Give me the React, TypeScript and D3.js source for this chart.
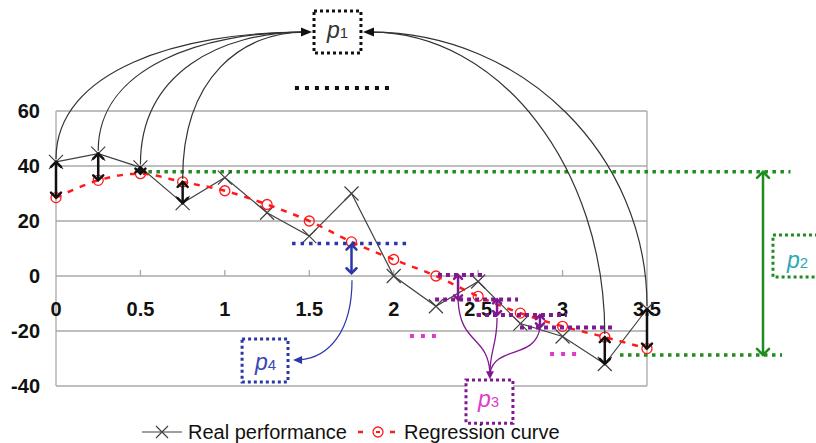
import React from "react";
import * as d3 from "d3";

// x positions of the samples (quarter steps)
const steps = [0, 0.25, 0.5, 0.75, 1, 1.25, 1.5, 1.75, 2, 2.25, 2.5, 2.75, 3, 3.25, 3.5];
const realPerformance = [41.5, 44.5, 39.5, 26.5, 35.8, 23, 14.5, 30, 0, -11, -2, -17.3, -22, -32, -12];
const regressionCurve = [28.5, 34.8, 37.2, 34.2, 31, 26, 20, 12.4, 6, 0, -7.4, -13.5, -18.3, -22.2, -26.4];
const xTicks = [0, 0.5, 1, 1.5, 2, 2.5, 3, 3.5];
const yTicks = [60, 40, 20, 0, -20, -40];

// indices of points that get a gap arrow + arc to p1
const leftArcIdx = [0, 1, 2, 3];
const rightArcIdx = [13, 14];

// annotation levels (data units)
const greenLevels = [37.9, -28.7];
const blueLevel = 11.8;
const purpleSegs = [
  { y: 0.4, x0: 2.262, x1: 2.523 },
  { y: -8.5, x0: 2.245, x1: 2.736 },
  { y: -14.2, x0: 2.493, x1: 3.026 },
  { y: -18.7, x0: 2.748, x1: 3.293 },
];
const purpleArrows = [
  { x: 2.381, y0: 0.4, y1: -8.5 },
  { x: 2.612, y0: -8.5, y1: -14.2 },
  { x: 2.866, y0: -14.2, y1: -18.7 },
];
const magentaSegs = [
  { y: -21.8, x0: 2.096, x1: 2.256 },
  { y: -28.4, x0: 2.926, x1: 3.085 },
];

const W = 816;
const H = 443;
const FONT = "Arial, 'Liberation Sans', sans-serif";
const GRID = "#a8a8a8";
const GREEN = "#1e8c1e";
const BLUE = "#2b37a8";
const PURPLE = "#80198f";
const MAGENTA = "#dc3cc8";

const x = d3.scaleLinear().domain([0, 3.5]).range([56, 647]);
const y = d3.scaleLinear().domain([-40, 60]).range([386, 111]);

function DoubleArrow({ px, y0, y1, color, w = 2.5, hw = 5, hh = 5 }: any) {
  const top = Math.min(y0, y1);
  const bot = Math.max(y0, y1);
  return (
    <g stroke={color} strokeWidth={w} fill="none" strokeLinecap="round">
      <line x1={px} y1={top + 1} x2={px} y2={bot - 1} />
      <polyline points={`${px - hw},${top + hh} ${px},${top} ${px + hw},${top + hh}`} />
      <polyline points={`${px - hw},${bot - hh} ${px},${bot} ${px + hw},${bot - hh}`} />
    </g>
  );
}

function Dotted({ x0, x1, py, color, w = 3.5, gap = 5 }: any) {
  return (
    <line x1={x0} x2={x1} y1={py} y2={py} stroke={color} strokeWidth={w}
      strokeDasharray={`${w} ${gap}`} />
  );
}

function DotBox({ x0, x1, y0, y1, color }: any) {
  return (
    <rect x={x0} y={y0} width={x1 - x0} height={y1 - y0} fill="white"
      stroke={color} strokeWidth={3} strokeDasharray="3 3" />
  );
}

function Label({ px, py, sub, color }: any) {
  return (
    <text x={px} y={py} fill={color} fontFamily={FONT}>
      <tspan fontStyle="italic" fontSize={23}>p</tspan>
      <tspan fontSize={15}>{sub}</tspan>
    </text>
  );
}

function arc(x0: number, y0: number, x1: number, y1: number, k1: number, k2: number) {
  return `M${x0},${y0} C${x0},${y0 + (y1 - y0) * k1} ${x1 + (x0 - x1) * k2},${y1} ${x1},${y1}`;
}

function Cross({ cx, cy, s = 7, color = "#404040", w = 1.2 }: any) {
  return (
    <path d={`M${cx - s},${cy - s}L${cx + s},${cy + s}M${cx - s},${cy + s}L${cx + s},${cy - s}`}
      stroke={color} strokeWidth={w} />
  );
}

export default function App() {
  const realLine = d3.line<number>().x((_, i) => x(steps[i])).y((d) => y(d));
  const regLine = d3
    .line<number>()
    .x((_, i) => x(steps[i]))
    .y((d) => y(d))
    .curve(d3.curveCatmullRom);

  const upper = (i: number) => y(Math.max(realPerformance[i], regressionCurve[i]));
  const lower = (i: number) => y(Math.min(realPerformance[i], regressionCurve[i]));

  const p1Left = { px: x(1.516), py: y(88.7) };
  const p1Right = { px: x(1.818), py: y(88.7) };
  const p3Tip = { px: x(2.57), py: y(-37.5) };

  return (
    <svg width={W} height={H} style={{ position: "absolute", left: 0, top: 0 }}>
      <rect width={W} height={H} fill="white" />

      {/* plot frame and grid */}
      {yTicks.map((t) => (
        <line key={t} x1={x(0)} x2={x(3.5)} y1={y(t)} y2={y(t)} stroke={GRID} strokeWidth={1.3} />
      ))}
      <line x1={x(0)} x2={x(0)} y1={y(60)} y2={y(-40)} stroke={GRID} strokeWidth={1.3} />
      <line x1={x(3.5)} x2={x(3.5)} y1={y(60)} y2={y(-40)} stroke={GRID} strokeWidth={1.3} />
      {xTicks.slice(1, -1).map((t) => (
        <line key={t} x1={x(t)} x2={x(t)} y1={y(0)} y2={y(0) - 6} stroke={GRID} strokeWidth={1.3} />
      ))}

      {/* axis labels */}
      {yTicks.map((t) => (
        <text key={t} x={40} y={y(t) + 7} textAnchor="end" fontFamily={FONT}
          fontWeight="bold" fontSize={20} fill="#111">{t}</text>
      ))}
      {xTicks.map((t) => (
        <text key={t} x={x(t)} y={y(0) + 39.5} textAnchor="middle" fontFamily={FONT}
          fontWeight="bold" fontSize={20} fill="#111">{t}</text>
      ))}

      {/* green p2 guides */}
      <Dotted x0={x(0.5)} x1={x(4.35)} py={y(greenLevels[0])} color={GREEN} w={3.5} gap={4.5} />
      <Dotted x0={x(3.34)} x1={x(4.3)} py={y(greenLevels[1])} color={GREEN} w={3.5} gap={4.5} />

      {/* series */}
      <path d={realLine(realPerformance) || ""} fill="none" stroke="#404040" strokeWidth={1.2} />
      {realPerformance.map((v, i) => (
        <Cross key={i} cx={x(steps[i])} cy={y(v)} />
      ))}
      <path d={regLine(regressionCurve) || ""} fill="none" stroke="#ff1a1a" strokeWidth={2.5}
        strokeDasharray="6 7" />
      {regressionCurve.map((v, i) => (
        <circle key={i} cx={x(steps[i])} cy={y(v)} r={5} fill="none" stroke="#ff1a1a" strokeWidth={1.3} />
      ))}

      {/* blue p4 */}
      <Dotted x0={x(1.398)} x1={x(2.079)} py={y(blueLevel)} color={BLUE} w={3.5} gap={5} />
      <DoubleArrow px={x(1.75)} y0={y(blueLevel) + 1} y1={y(1)} color={BLUE} w={2.5} />
      <path d={`M${x(1.753)},${y(-1.5)} C${x(1.753)},${y(-19.6)} ${x(1.623)},${y(-29.8)} ${x(1.404) + 6},${y(-30.5)}`}
        fill="none" stroke={BLUE} strokeWidth={1.2} />
      <path d={`M${x(1.404)},${y(-30.5)} l9,-4 l0,8 z`} fill={BLUE} />
      <DotBox x0={x(1.102)} x1={x(1.374)} y0={y(-22.9)} y1={y(-38.5)} color={BLUE} />
      <Label px={x(1.178)} py={y(-34.2)} sub="4" color="#3c46b4" />

      {/* purple p3 */}
      {purpleSegs.map((s, i) => (
        <Dotted key={i} x0={x(s.x0)} x1={x(s.x1)} py={y(s.y)} color={PURPLE} w={4} gap={4} />
      ))}
      {magentaSegs.map((s, i) => (
        <Dotted key={i} x0={x(s.x0)} x1={x(s.x1)} py={y(s.y)} color={MAGENTA} w={4} gap={7} />
      ))}
      {purpleArrows.map((a, i) => (
        <DoubleArrow key={i} px={x(a.x)} y0={y(a.y0)} y1={y(a.y1)} color={PURPLE} w={2.5} hw={4} hh={4} />
      ))}
      <g fill="none" stroke={PURPLE} strokeWidth={1.3}>
        <path d={`M${x(2.381)},${y(-8.7)} C${x(2.393)},${y(-25.1)} ${x(2.558)},${y(-21.5)} ${p3Tip.px},${p3Tip.py - 6}`} />
        <path d={`M${x(2.612)},${y(-15.3)} C${x(2.612)},${y(-25.1)} ${x(2.57)},${y(-26.9)} ${p3Tip.px},${p3Tip.py - 6}`} />
        <path d={`M${x(2.866)},${y(-18.9)} C${x(2.837)},${y(-30.5)} ${x(2.6)},${y(-25.1)} ${p3Tip.px},${p3Tip.py - 6}`} />
      </g>
      <path d={`M${p3Tip.px},${p3Tip.py} l-4,-8 l8,0 z`} fill={PURPLE} />
      <DotBox x0={x(2.428)} x1={x(2.706)} y0={y(-37.8)} y1={y(-53.5)} color={PURPLE} />
      <Label px={x(2.499)} py={y(-47.6)} sub="3" color={MAGENTA} />

      {/* black gap arrows */}
      {[...leftArcIdx, ...rightArcIdx].map((i) => (
        <DoubleArrow key={i} px={x(steps[i])} y0={upper(i)} y1={lower(i)} color="#111" w={2.5} />
      ))}

      {/* arcs to p1 */}
      <g fill="none" stroke="#333" strokeWidth={1.2}>
        {leftArcIdx.map((i) => (
          <path key={i} d={arc(x(steps[i]), upper(i) - 3, p1Left.px - 8, p1Left.py, 0.7, 0.5)} />
        ))}
        {rightArcIdx.map((i) => (
          <path key={i} d={arc(x(steps[i]), upper(i) - 3, p1Right.px + 8, p1Right.py, 0.55, 0.55)} />
        ))}
      </g>
      <path d={`M${p1Left.px},${p1Left.py} l-11,-4.5 l0,9 z`} fill="#111" />
      <path d={`M${p1Right.px},${p1Right.py} l11,-4.5 l0,9 z`} fill="#111" />
      <DotBox x0={x(1.528)} x1={x(1.806)} y0={y(96.4)} y1={y(81.1)} color="#111" />
      <Label px={x(1.605)} py={y(86.4)} sub="1" color="#333" />
      <Dotted x0={x(1.415)} x1={x(1.99)} py={y(68.4)} color="#111" w={4} gap={6} />

      {/* green p2 */}
      <DoubleArrow px={x(4.187)} y0={y(greenLevels[0])} y1={y(greenLevels[1])} color={GREEN} w={2.5} hw={6} hh={6} />
      <DotBox x0={x(4.246)} x1={x(4.6)} y0={y(14.9)} y1={y(-0.4)} color={GREEN} />
      <Label px={x(4.329)} py={y(2.9)} sub="2" color="#2ea7b5" />

      {/* legend */}
      <g>
        <line x1={142} x2={182} y1={432} y2={432} stroke="#404040" strokeWidth={1.2} />
        <Cross cx={162} cy={432} s={6} />
        <text x={188} y={439} fontFamily={FONT} fontSize={20} fill="#111">Real performance</text>
        <line x1={358} x2={363} y1={432} y2={432} stroke="#ff1a1a" strokeWidth={2.5} />
        <circle cx={378} cy={432} r={5} fill="none" stroke="#ff1a1a" strokeWidth={1.3} />
        <line x1={376} x2={380} y1={432} y2={432} stroke="#ff1a1a" strokeWidth={2} />
        <line x1={390} x2={395} y1={432} y2={432} stroke="#ff1a1a" strokeWidth={2.5} />
        <text x={404} y={439} fontFamily={FONT} fontSize={20} fill="#111">Regression curve</text>
      </g>
    </svg>
  );
}
